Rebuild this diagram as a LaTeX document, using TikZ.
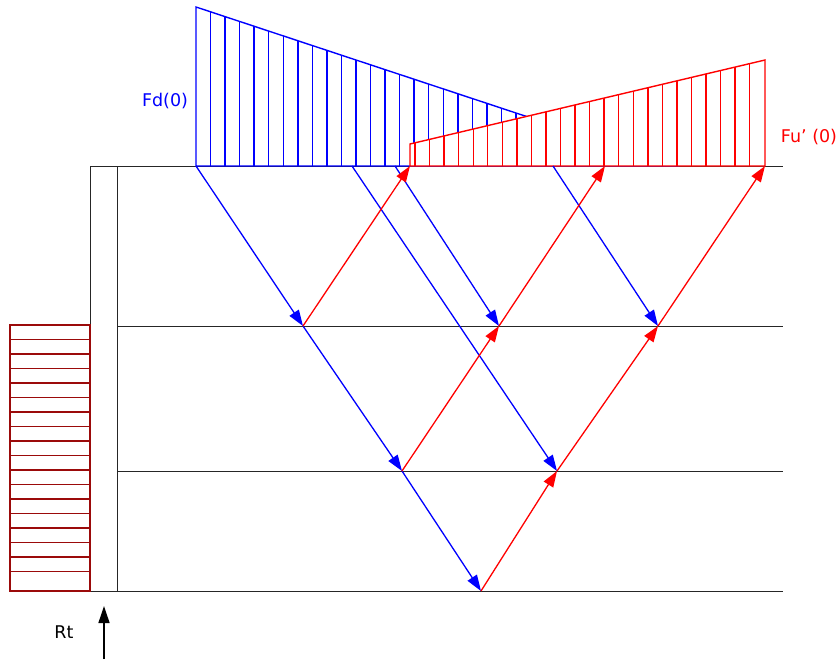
\documentclass[tikz,border=0pt]{standalone}
\usepackage{fontspec}
\setmainfont{DejaVu Sans}
\usetikzlibrary{arrows.meta}
\definecolor{down}{RGB}{0,0,255}
\definecolor{up}{RGB}{255,0,0}
\definecolor{rust}{RGB}{155,10,10}

\begin{document}
\begin{tikzpicture}[
  x=1pt,y=-1pt,
  font=\fontsize{17.5}{20}\selectfont,
  level/.style={line width=1pt,black!85},
  downray/.style={line width=1.3pt,down,-{Triangle[length=16pt,width=11pt]}},
  upray/.style={line width=1.3pt,up,-{Triangle[length=16pt,width=11pt]}},
  bluehatch/.style={line width=1.4pt,down},
  redhatch/.style={line width=1.4pt,up},
  rusthatch/.style={line width=1.3pt,rust},
]
\useasboundingbox (0,0) rectangle (840,659);

% ============================ LEVELS ============================
\draw[level] (90,166) -- (783,166);
\foreach \y in {326,471,591}{\draw[level] (117,\y) -- (783,\y);}
\draw[level,fill=white] (90,166) rectangle (117,591);

% ---- hatched block beside the column ----
\draw[rusthatch] (10,325) rectangle (90,591);
\foreach \k in {1,...,17}{
  \draw[rusthatch] (10,{325+14.5*\k}) -- (90,{325+14.5*\k});
}

% ============================ DIAGRAMS ============================
% ---- Fd(0): blue triangle ----
\draw[bluehatch] (196,166) -- (196,7) -- (676,166) -- cycle;
\foreach \k in {1,...,32}{
  \pgfmathsetmacro\xx{196+14.545*\k}
  \draw[bluehatch] (\xx,166) -- (\xx,{7+(\xx-196)*0.33125});
}
\node[text=down] (fd) at (165,101) {Fd(0)};

% ---- Fu'(0): red trapezoid, on top ----
\draw[redhatch,fill=white] (410,166) -- (410,144) -- (765,60) -- (765,166) -- cycle;
\foreach \k in {0,...,23}{
  \pgfmathsetmacro\xx{415+14.55*\k}
  \draw[redhatch] (\xx,166) -- (\xx,{144-(\xx-410)*0.23662});
}
\node[text=up] (fu) at (809,137) {Fu’ (0)};

% ============================ RAYS ============================
% reflection points
\coordinate (t1) at (196,166); \coordinate (t2) at (352,166);
\coordinate (t3) at (395,166); \coordinate (t4) at (553,166);
\coordinate (u1) at (410,166); \coordinate (u2) at (605,166);
\coordinate (u3) at (765,166);
\coordinate (a1) at (303,326); \coordinate (a2) at (499,326);
\coordinate (a3) at (658,326);
\coordinate (b1) at (402,471); \coordinate (b2) at (557,471);
\coordinate (c1) at (481,591);

% downgoing (blue)
\draw[downray] (t1) -- (a1);
\draw[downray] (a1) -- (b1);
\draw[downray] (b1) -- (c1);
\draw[downray] (t2) -- (b2);
\draw[downray] (t3) -- (a2);
\draw[downray] (t4) -- (a3);

% upgoing (red)
\draw[upray] (a1) -- (u1);
\draw[upray] (b1) -- (a2);
\draw[upray] (a2) -- (u2);
\draw[upray] (c1) -- (b2);
\draw[upray] (b2) -- (a3);
\draw[upray] (a3) -- (u3);

% ---- Rt ----
\coordinate (rtfoot) at (104,659);
\coordinate (rthead) at (104,606);
\draw[line width=1.3pt,-{Triangle[length=17pt,width=11pt]}] (rtfoot) -- (rthead);
\node (rt) at (64,632) {Rt};

\end{tikzpicture}
\end{document}
